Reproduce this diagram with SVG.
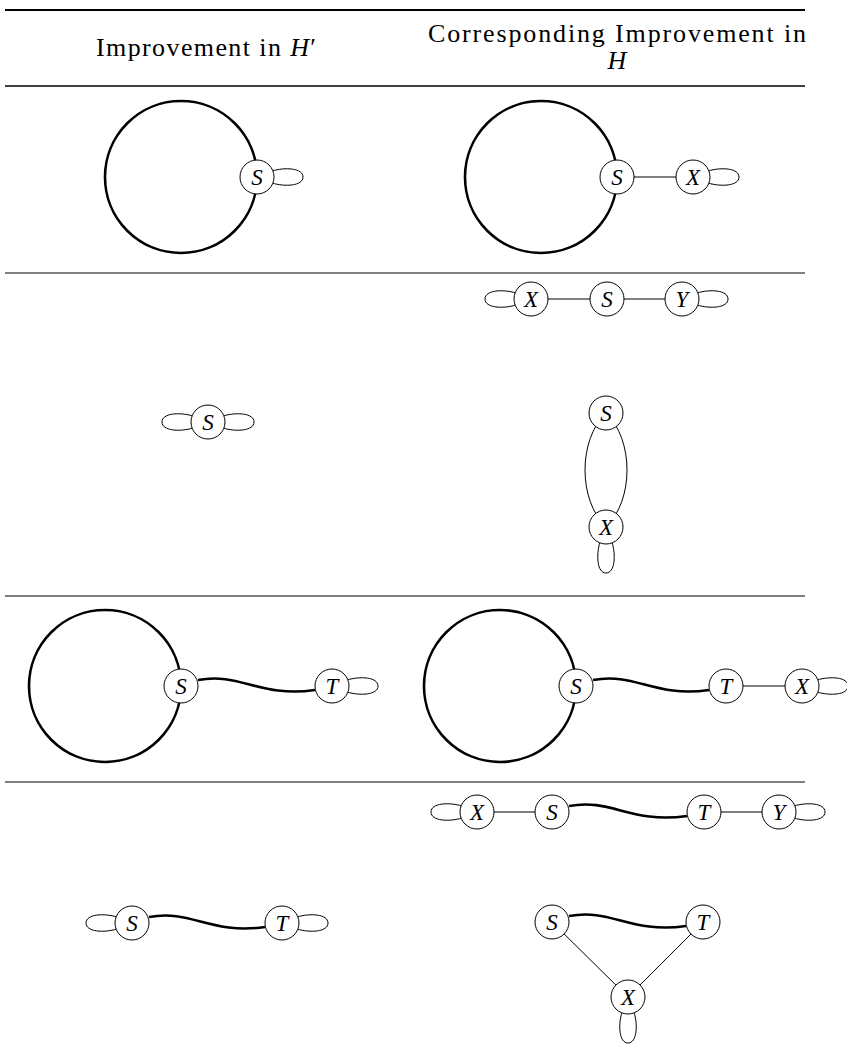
<svg xmlns="http://www.w3.org/2000/svg" xmlns:xlink="http://www.w3.org/1999/xlink" width="847" height="1064" viewBox="0 0 847 1064">
<style>
.rule{stroke:#000;fill:none}
.cyc{fill:none;stroke:#000;stroke-width:2.6}
.edge{fill:none;stroke:#000;stroke-width:1}
.loop{fill:none;stroke:#000;stroke-width:1}
.node circle{fill:#fff;stroke:#000;stroke-width:1}
.lbl{font-family:"Liberation Serif",serif;font-style:italic;font-size:23px;text-anchor:middle}
.hdr{font-family:"Liberation Serif",serif;font-size:26px;text-anchor:middle}
</style>
<defs>
<path id="loop" class="loop" d="M15,-6 C28,-10 46,-9 46,0 C46,9 28,10 15,6"/>
</defs>
<g id="table">
<line class="rule" x1="5" y1="10" x2="805" y2="10" stroke-width="2"/>
<line class="rule" x1="5" y1="86" x2="805" y2="86" stroke-width="1.4"/>
<line class="rule" x1="5" y1="273" x2="805" y2="273" stroke-width="1"/>
<line class="rule" x1="5" y1="596" x2="805" y2="596" stroke-width="1"/>
<line class="rule" x1="5" y1="782" x2="805" y2="782" stroke-width="1"/>
<text class="hdr" x="206" y="56" textLength="220" lengthAdjust="spacing">Improvement in <tspan font-style="italic">H</tspan>′</text>
<text class="hdr" x="617" y="42" textLength="378" lengthAdjust="spacing">Corresponding Improvement in</text>
<text class="hdr" x="617" y="69" font-style="italic">H</text>
</g>
<g id="connectors">
<circle class="cyc" cx="181" cy="177" r="76"/>
<use xlink:href="#loop" transform="translate(257,177)"/>
<circle class="cyc" cx="541" cy="177" r="76"/>
<line class="edge" x1="617" y1="177" x2="693" y2="177"/>
<use xlink:href="#loop" transform="translate(693,177)"/>
<use xlink:href="#loop" transform="translate(208,422)"/>
<use xlink:href="#loop" transform="translate(208,422) rotate(180)"/>
<line class="edge" x1="531" y1="299" x2="682" y2="299"/>
<use xlink:href="#loop" transform="translate(531,299) rotate(180)"/>
<use xlink:href="#loop" transform="translate(682,299)"/>
<path class="edge" d="M606,413 C578,440 578,500 606,527"/>
<path class="edge" d="M606,413 C634,440 634,500 606,527"/>
<use xlink:href="#loop" transform="translate(606,527) rotate(90)"/>
<circle class="cyc" cx="105" cy="686" r="76"/>
<path class="cyc" d="M198,680 C240,672 260,698 315,690"/>
<use xlink:href="#loop" transform="translate(332,686)"/>
<circle class="cyc" cx="500" cy="686" r="76"/>
<path class="cyc" d="M593,680 C635,672 655,698 709,690"/>
<line class="edge" x1="726" y1="686" x2="802" y2="686"/>
<use xlink:href="#loop" transform="translate(802,686)"/>
<line class="edge" x1="477" y1="812" x2="552" y2="812"/>
<line class="edge" x1="704" y1="812" x2="779" y2="812"/>
<path class="cyc" d="M569,806 C611,798 631,824 687,816"/>
<use xlink:href="#loop" transform="translate(477,812) rotate(180)"/>
<use xlink:href="#loop" transform="translate(779,812)"/>
<path class="cyc" d="M149,917 C191,909 211,935 265,927"/>
<use xlink:href="#loop" transform="translate(132,923) rotate(180)"/>
<use xlink:href="#loop" transform="translate(282,923)"/>
<path class="cyc" d="M569,916 C611,908 631,934 686,926"/>
<line class="edge" x1="552" y1="922" x2="628" y2="997"/>
<line class="edge" x1="703" y1="922" x2="628" y2="997"/>
<use xlink:href="#loop" transform="translate(628,997) rotate(90)"/>
</g>
<g id="n1S" class="node"><circle cx="257" cy="177" r="17"/><text class="lbl" x="257" y="185">S</text></g>
<g id="n1rS" class="node"><circle cx="617" cy="177" r="17"/><text class="lbl" x="617" y="185">S</text></g>
<g id="n1rX" class="node"><circle cx="693" cy="177" r="17"/><text class="lbl" x="693" y="185">X</text></g>
<g id="n2S" class="node"><circle cx="208" cy="422" r="17"/><text class="lbl" x="208" y="430">S</text></g>
<g id="n2aX" class="node"><circle cx="531" cy="299" r="17"/><text class="lbl" x="531" y="307">X</text></g>
<g id="n2aS" class="node"><circle cx="607" cy="299" r="17"/><text class="lbl" x="607" y="307">S</text></g>
<g id="n2aY" class="node"><circle cx="682" cy="299" r="17"/><text class="lbl" x="682" y="307">Y</text></g>
<g id="n2bS" class="node"><circle cx="606" cy="413" r="17"/><text class="lbl" x="606" y="421">S</text></g>
<g id="n2bX" class="node"><circle cx="606" cy="527" r="17"/><text class="lbl" x="606" y="535">X</text></g>
<g id="n3S" class="node"><circle cx="181" cy="686" r="17"/><text class="lbl" x="181" y="694">S</text></g>
<g id="n3T" class="node"><circle cx="332" cy="686" r="17"/><text class="lbl" x="332" y="694">T</text></g>
<g id="n3rS" class="node"><circle cx="576" cy="686" r="17"/><text class="lbl" x="576" y="694">S</text></g>
<g id="n3rT" class="node"><circle cx="726" cy="686" r="17"/><text class="lbl" x="726" y="694">T</text></g>
<g id="n3rX" class="node"><circle cx="802" cy="686" r="17"/><text class="lbl" x="802" y="694">X</text></g>
<g id="n4aX" class="node"><circle cx="477" cy="812" r="17"/><text class="lbl" x="477" y="820">X</text></g>
<g id="n4aS" class="node"><circle cx="552" cy="812" r="17"/><text class="lbl" x="552" y="820">S</text></g>
<g id="n4aT" class="node"><circle cx="704" cy="812" r="17"/><text class="lbl" x="704" y="820">T</text></g>
<g id="n4aY" class="node"><circle cx="779" cy="812" r="17"/><text class="lbl" x="779" y="820">Y</text></g>
<g id="n4S" class="node"><circle cx="132" cy="923" r="17"/><text class="lbl" x="132" y="931">S</text></g>
<g id="n4T" class="node"><circle cx="282" cy="923" r="17"/><text class="lbl" x="282" y="931">T</text></g>
<g id="n4bS" class="node"><circle cx="552" cy="922" r="17"/><text class="lbl" x="552" y="930">S</text></g>
<g id="n4bT" class="node"><circle cx="703" cy="922" r="17"/><text class="lbl" x="703" y="930">T</text></g>
<g id="n4bX" class="node"><circle cx="628" cy="997" r="17"/><text class="lbl" x="628" y="1005">X</text></g>
</svg>
